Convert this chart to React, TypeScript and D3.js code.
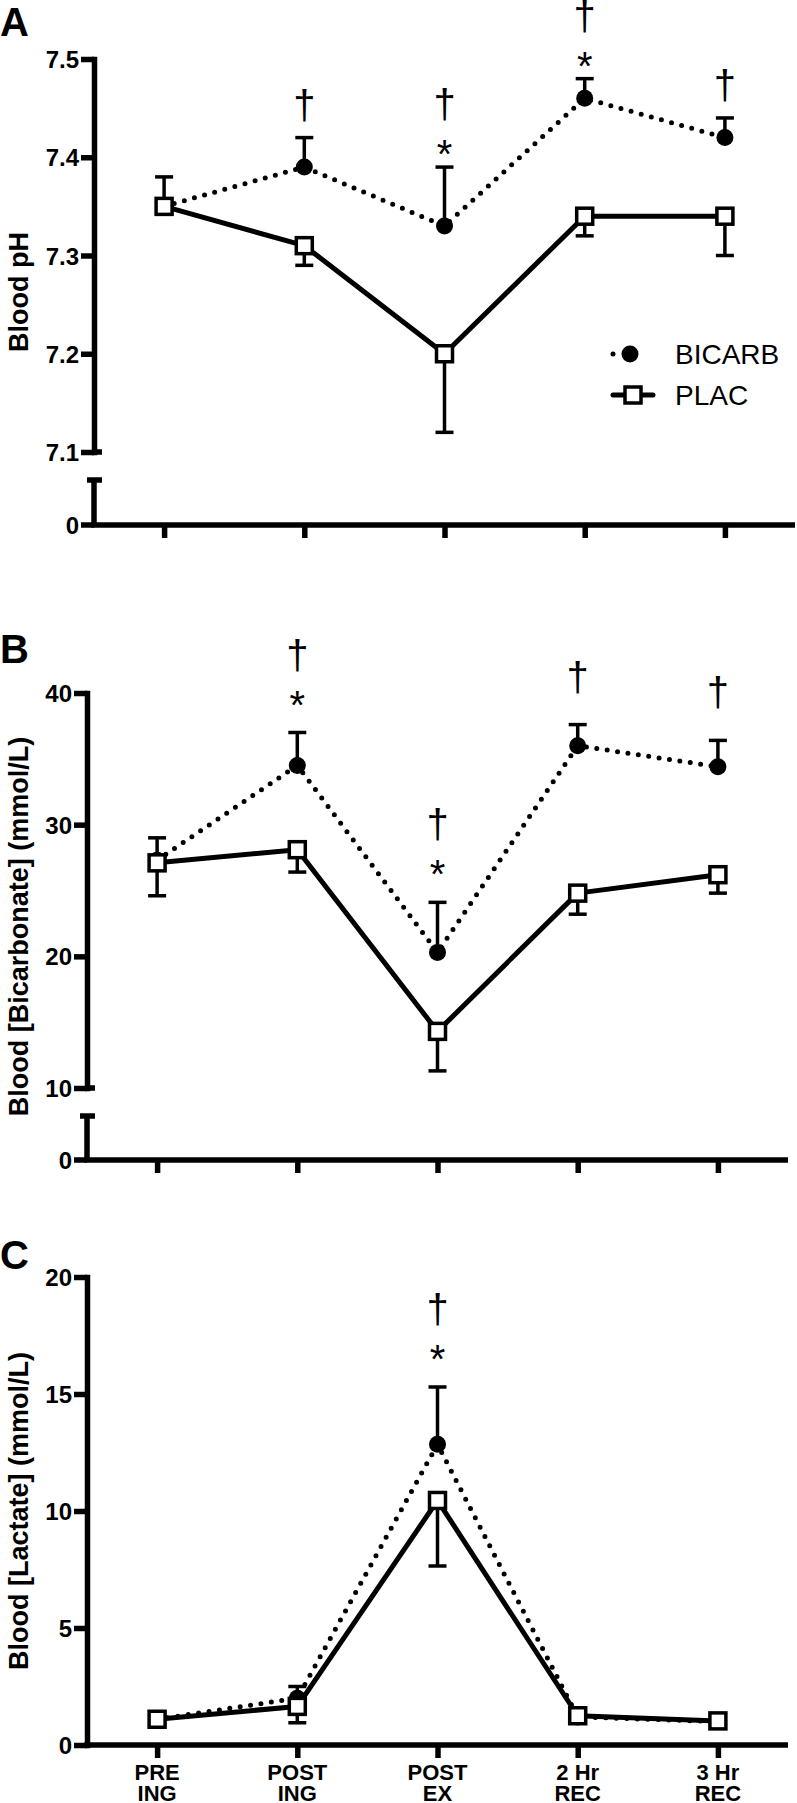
import * as d3 from "d3";
import { useEffect, useRef } from "react";

const WIDTH = 797;
const HEIGHT = 1803;
const FONT = "'Liberation Sans', Arial, Helvetica, sans-serif";

// time points on the x axis
const timepoints = ["PRE ING", "POST ING", "POST EX", "2 Hr REC", "3 Hr REC"];
const timepointLines = [
  ["PRE", "ING"],
  ["POST", "ING"],
  ["POST", "EX"],
  ["2 Hr", "REC"],
  ["3 Hr", "REC"],
];

// A: blood pH
const phTicks = [7.1, 7.2, 7.3, 7.4, 7.5];
const phBicarb = [7.35, 7.39, 7.33, 7.46, 7.42];
const phBicarbErr = [0.03, 0.03, 0.06, 0.02, 0.02];
const phPlac = [7.35, 7.31, 7.2, 7.34, 7.34];
const phPlacErr = [0.005, 0.02, 0.08, 0.02, 0.04];
const phMarks = ["", "†", "†*", "†*", "†"];

// B: blood bicarbonate
const bicTicks = [10, 20, 30, 40];
const bicBicarb = [27.3, 34.5, 20.3, 36.0, 34.4];
const bicBicarbErr = [1.7, 2.5, 3.8, 1.6, 2.0];
const bicPlac = [27.1, 28.1, 14.3, 24.8, 26.2];
const bicPlacErr = [2.5, 1.7, 3.0, 1.6, 1.4];
const bicMarks = ["", "†*", "†*", "†", "†"];

// C: blood lactate
const lacTicks = [0, 5, 10, 15, 20];
const lacBicarb = [1.1, 2.0, 12.85, 1.2, 1.0];
const lacBicarbErr = [0.1, 0.5, 2.45, 0.1, 0.1];
const lacPlac = [1.1, 1.65, 10.45, 1.25, 1.03];
const lacPlacErr = [0.1, 0.7, 2.8, 0.1, 0.1];
const lacMarks = ["", "", "†*", "", ""];

const AXIS_W = 5.5;
const TICK = 13;

interface Panel {
  letter: string;
  letterY: number;
  yLabel: string;
  axisX: number;
  domain: [number, number];
  range: [number, number];
  ticks: number[];
  fmt: string;
  breakCapY?: number;
  xAxisY: number;
  bicarb: number[];
  bicarbErr: number[];
  plac: number[];
  placErr: number[];
  marks: string[];
  markGap: number;
  xLabels: boolean;
  legend: boolean;
}

const panels: Panel[] = [
  {
    letter: "A",
    letterY: 36,
    yLabel: "Blood pH",
    axisX: 94,
    domain: [7.1, 7.5],
    range: [452, 59],
    ticks: phTicks,
    fmt: ".1f",
    breakCapY: 480,
    xAxisY: 525,
    bicarb: phBicarb,
    bicarbErr: phBicarbErr,
    plac: phPlac,
    placErr: phPlacErr,
    marks: phMarks,
    markGap: 13,
    xLabels: false,
    legend: true,
  },
  {
    letter: "B",
    letterY: 663,
    yLabel: "Blood [Bicarbonate] (mmol/L)",
    axisX: 87,
    domain: [10, 40],
    range: [1088, 693],
    ticks: bicTicks,
    fmt: "d",
    breakCapY: 1116,
    xAxisY: 1160,
    bicarb: bicBicarb,
    bicarbErr: bicBicarbErr,
    plac: bicPlac,
    placErr: bicPlacErr,
    marks: bicMarks,
    markGap: 28,
    xLabels: false,
    legend: false,
  },
  {
    letter: "C",
    letterY: 1269,
    yLabel: "Blood [Lactate] (mmol/L)",
    axisX: 87,
    domain: [0, 20],
    range: [1745, 1277],
    ticks: lacTicks,
    fmt: "d",
    xAxisY: 1745,
    bicarb: lacBicarb,
    bicarbErr: lacBicarbErr,
    plac: lacPlac,
    placErr: lacPlacErr,
    marks: lacMarks,
    markGap: 28,
    xLabels: true,
    legend: false,
  },
];

function drawPanel(svg: d3.Selection<SVGSVGElement, unknown, null, undefined>, p: Panel) {
  const g = svg.append("g");
  const y = d3.scaleLinear().domain(p.domain).range(p.range);
  const x = d3
    .scalePoint<string>()
    .domain(timepoints)
    .range([p.axisX, p.axisX + 701])
    .padding(0.5);

  // panel letter
  g.append("text")
    .attr("x", 0)
    .attr("y", p.letterY)
    .attr("font-size", 40)
    .attr("font-weight", "bold")
    .attr("font-family", FONT)
    .text(p.letter);

  // y axis title
  const midY = (p.range[1] + p.xAxisY) / 2;
  g.append("text")
    .attr("transform", `translate(28,${midY}) rotate(-90)`)
    .attr("text-anchor", "middle")
    .attr("font-size", 27)
    .attr("font-weight", "bold")
    .attr("font-family", FONT)
    .text(p.yLabel);

  // y axis
  const yAxis = g
    .append("g")
    .attr("transform", `translate(${p.axisX},0)`)
    .call(
      d3
        .axisLeft(y)
        .tickValues(p.ticks)
        .tickSize(TICK)
        .tickSizeOuter(0)
        .tickPadding(2)
        .tickFormat(d3.format(p.fmt))
    );
  yAxis.select(".domain").attr("stroke-width", AXIS_W).attr("stroke-linecap", "square");
  yAxis.selectAll(".tick line").attr("stroke-width", AXIS_W);
  yAxis
    .selectAll(".tick text")
    .attr("font-size", 24)
    .attr("font-weight", "bold")
    .attr("font-family", FONT)
    .attr("fill", "#000")
    .attr("dy", "0.36em");

  // broken axis: cap on the upper part, short lower segment down to 0
  if (p.breakCapY !== undefined) {
    const lowY = y(p.domain[0]);
    g.append("line")
      .attr("x1", p.axisX)
      .attr("x2", p.axisX + 8)
      .attr("y1", lowY)
      .attr("y2", lowY)
      .attr("stroke", "#000")
      .attr("stroke-width", AXIS_W);
    g.append("line")
      .attr("x1", p.axisX - 7)
      .attr("x2", p.axisX + 8)
      .attr("y1", p.breakCapY)
      .attr("y2", p.breakCapY)
      .attr("stroke", "#000")
      .attr("stroke-width", AXIS_W);
    g.append("line")
      .attr("x1", p.axisX)
      .attr("x2", p.axisX)
      .attr("y1", p.breakCapY)
      .attr("y2", p.xAxisY)
      .attr("stroke", "#000")
      .attr("stroke-width", AXIS_W);
    g.append("line")
      .attr("x1", p.axisX - TICK)
      .attr("x2", p.axisX)
      .attr("y1", p.xAxisY)
      .attr("y2", p.xAxisY)
      .attr("stroke", "#000")
      .attr("stroke-width", AXIS_W);
    g.append("text")
      .attr("x", p.axisX - TICK - 2)
      .attr("y", p.xAxisY)
      .attr("dy", "0.36em")
      .attr("text-anchor", "end")
      .attr("font-size", 24)
      .attr("font-weight", "bold")
      .attr("font-family", FONT)
      .text("0");
  }

  // x axis
  g.append("line")
    .attr("x1", p.axisX - AXIS_W / 2)
    .attr("x2", p.axisX + 701)
    .attr("y1", p.xAxisY)
    .attr("y2", p.xAxisY)
    .attr("stroke", "#000")
    .attr("stroke-width", AXIS_W);
  const xAxis = g
    .append("g")
    .attr("transform", `translate(0,${p.xAxisY})`)
    .call(d3.axisBottom(x).tickSize(TICK).tickSizeOuter(0).tickFormat(() => ""));
  xAxis.select(".domain").remove();
  xAxis.selectAll(".tick line").attr("stroke-width", AXIS_W);

  if (p.xLabels) {
    const lbl = g
      .selectAll("text.xlab")
      .data(timepoints)
      .join("text")
      .classed("xlab", true)
      .attr("text-anchor", "middle")
      .attr("font-size", 22)
      .attr("font-weight", "bold")
      .attr("font-family", FONT);
    lbl
      .selectAll("tspan")
      .data((d, i) => timepointLines[i])
      .join("tspan")
      .attr("x", function () {
        const t = d3.select((this as any).parentNode).datum() as string;
        return x(t) as number;
      })
      .attr("y", (d, i) => p.xAxisY + 35 + i * 21)
      .text((d) => d);
  }

  // series lines
  const line = d3
    .line<number>()
    .x((d, i) => x(timepoints[i]) as number)
    .y((d) => y(d));

  g.append("path")
    .datum(p.bicarb)
    .attr("d", line)
    .attr("fill", "none")
    .attr("stroke", "#000")
    .attr("stroke-width", 5)
    .attr("stroke-linecap", "round")
    .attr("stroke-dasharray", "0 10.5");

  g.append("path")
    .datum(p.plac)
    .attr("d", line)
    .attr("fill", "none")
    .attr("stroke", "#000")
    .attr("stroke-width", 5)
    .attr("stroke-linejoin", "round");

  // error bars: BICARB upward, PLAC downward
  const errBars = (vals: number[], errs: number[], dir: number) => {
    vals.forEach((v, i) => {
      const cx = x(timepoints[i]) as number;
      const end = y(v + dir * errs[i]);
      g.append("line")
        .attr("x1", cx)
        .attr("x2", cx)
        .attr("y1", y(v))
        .attr("y2", end)
        .attr("stroke", "#000")
        .attr("stroke-width", 3.5);
      g.append("line")
        .attr("x1", cx - 9)
        .attr("x2", cx + 9)
        .attr("y1", end)
        .attr("y2", end)
        .attr("stroke", "#000")
        .attr("stroke-width", 3.5);
    });
  };
  errBars(p.bicarb, p.bicarbErr, 1);
  errBars(p.plac, p.placErr, -1);

  // markers
  g.selectAll("circle.bicarb")
    .data(p.bicarb)
    .join("circle")
    .classed("bicarb", true)
    .attr("cx", (d, i) => x(timepoints[i]) as number)
    .attr("cy", (d) => y(d))
    .attr("r", 8.5)
    .attr("fill", "#000");

  g.selectAll("rect.plac")
    .data(p.plac)
    .join("rect")
    .classed("plac", true)
    .attr("x", (d, i) => (x(timepoints[i]) as number) - 8)
    .attr("y", (d) => y(d) - 8)
    .attr("width", 16)
    .attr("height", 16)
    .attr("fill", "#fff")
    .attr("stroke", "#000")
    .attr("stroke-width", 3.5);

  // significance marks above BICARB error bars
  p.marks.forEach((m, i) => {
    if (!m) return;
    const cx = x(timepoints[i]) as number;
    const top = y(p.bicarb[i] + p.bicarbErr[i]);
    const hasStar = m.includes("*");
    if (hasStar) {
      g.append("text")
        .attr("x", cx)
        .attr("y", top - p.markGap - 9 + 23)
        .attr("text-anchor", "middle")
        .attr("font-size", 40)
        .attr("font-family", FONT)
        .text("*");
    }
    const daggerBottom = hasStar ? top - p.markGap - 30 : top - p.markGap;
    g.append("text")
      .attr("x", cx)
      .attr("y", daggerBottom - 6)
      .attr("text-anchor", "middle")
      .attr("font-size", 40)
      .attr("font-family", FONT)
      .text("†");
  });

  if (p.legend) {
    const lg = g.append("g");
    lg.append("line")
      .attr("x1", 613)
      .attr("x2", 647)
      .attr("y1", 354)
      .attr("y2", 354)
      .attr("stroke", "#000")
      .attr("stroke-width", 5)
      .attr("stroke-linecap", "round")
      .attr("stroke-dasharray", "0 17");
    lg.append("circle").attr("cx", 630).attr("cy", 354).attr("r", 8.5).attr("fill", "#000");
    lg.append("line")
      .attr("x1", 613)
      .attr("x2", 653)
      .attr("y1", 395)
      .attr("y2", 395)
      .attr("stroke", "#000")
      .attr("stroke-width", 5)
      .attr("stroke-linecap", "round");
    lg.append("rect")
      .attr("x", 625)
      .attr("y", 387)
      .attr("width", 16)
      .attr("height", 16)
      .attr("fill", "#fff")
      .attr("stroke", "#000")
      .attr("stroke-width", 3.5);
    lg.selectAll("text")
      .data(["BICARB", "PLAC"])
      .join("text")
      .attr("x", 675)
      .attr("y", (d, i) => 364 + i * 41)
      .attr("font-size", 28)
      .attr("font-family", FONT)
      .text((d) => d);
  }
}

export default function App() {
  const ref = useRef<SVGSVGElement>(null);

  useEffect(() => {
    if (!ref.current) return;
    const svg = d3.select(ref.current);
    svg.selectAll("*").remove();
    svg.append("rect").attr("width", WIDTH).attr("height", HEIGHT).attr("fill", "#fff");
    panels.forEach((p) => drawPanel(svg, p));
  }, []);

  return (
    <svg
      ref={ref}
      width={WIDTH}
      height={HEIGHT}
      style={{ position: "absolute", left: 0, top: 0, display: "block" }}
    />
  );
}
